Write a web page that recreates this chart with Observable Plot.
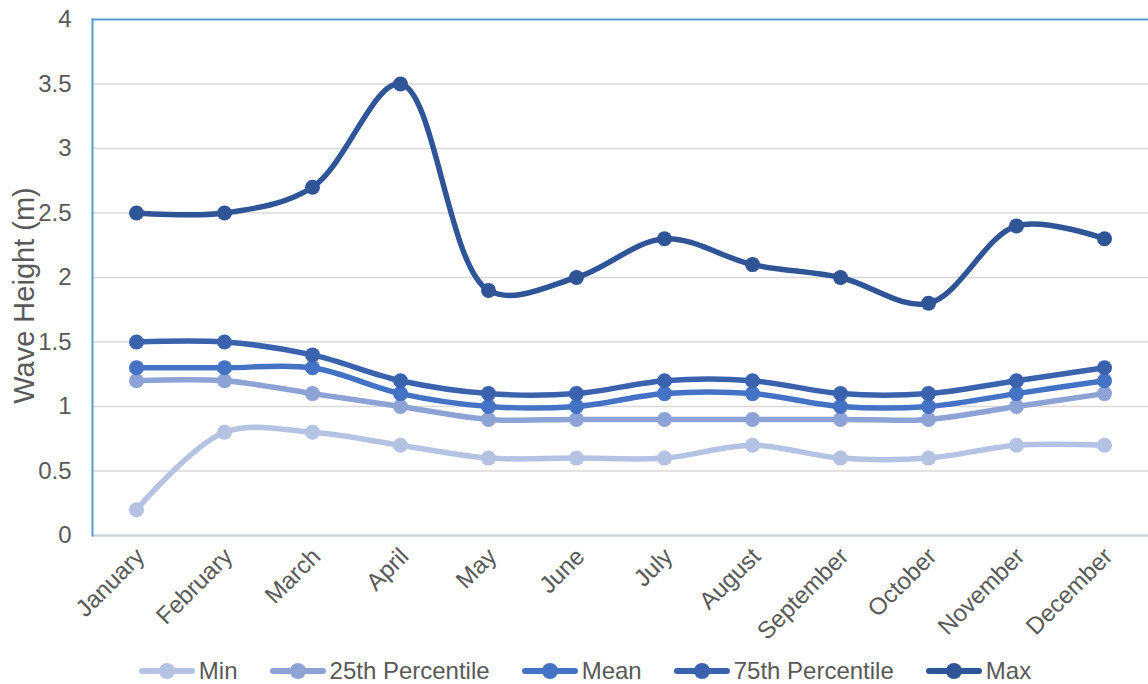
<!DOCTYPE html>
<html>
<head>
<meta charset="utf-8">
<script src="https://cdn.jsdelivr.net/npm/d3@7"></script>
<script src="https://cdn.jsdelivr.net/npm/@observablehq/plot@0.6"></script>
<style>
  body { margin: 0; background: #fff; font-family: "Liberation Sans", Arial, sans-serif; }
  #chart { width: 1148px; height: 650px; }
  .legend { display: flex; justify-content: center; align-items: center; gap: 32px; height: 34px; margin-left: 22px; margin-top: 4px; color: #595959; font-size: 24px; }
  .legend .item { display: flex; align-items: center; gap: 4px; }
  .legend svg { display: block; }
</style>
</head>
<body>
<div id="chart"></div>
<script>
const months = ["January","February","March","April","May","June","July","August","September","October","November","December"];
const seriesNames = ["Min","25th Percentile","Mean","75th Percentile","Max"];
const seriesColors = ["#b4c2e3","#8ea3d5","#4472c4","#3b63ad","#2f5597"];
const minVals  = [0.2,0.8,0.8,0.7,0.6,0.6,0.6,0.7,0.6,0.6,0.7,0.7];
const p25Vals  = [1.2,1.2,1.1,1.0,0.9,0.9,0.9,0.9,0.9,0.9,1.0,1.1];
const meanVals = [1.3,1.3,1.3,1.1,1.0,1.0,1.1,1.1,1.0,1.0,1.1,1.2];
const p75Vals  = [1.5,1.5,1.4,1.2,1.1,1.1,1.2,1.2,1.1,1.1,1.2,1.3];
const maxVals  = [2.5,2.5,2.7,3.5,1.9,2.0,2.3,2.1,2.0,1.8,2.4,2.3];
const yTicks = [0,0.5,1,1.5,2,2.5,3,3.5,4];

const allVals = [minVals,p25Vals,meanVals,p75Vals,maxVals];
const data = [];
seriesNames.forEach((s, si) => months.forEach((m, i) => data.push({series: s, month: m, value: allVals[si][i]})));

const W = 1148, H = 650;
const chart = Plot.plot({
  width: W, height: H,
  marginLeft: 92, marginRight: 0, marginTop: 19, marginBottom: 115,
  style: {fontFamily: "Liberation Sans, Arial, sans-serif", fontSize: "24px", color: "#595959", background: "#fff", overflow: "visible"},
  x: {type: "point", domain: months, padding: 0.5, axis: null},
  y: {domain: [0,4], axis: null},
  color: {domain: seriesNames, range: seriesColors},
  marks: [
    Plot.ruleY(yTicks.filter(d => d > 0 && d < 4), {stroke: "#d9d9d9", strokeWidth: 1.5}),
    Plot.ruleY([0], {stroke: "#d0d5dc", strokeWidth: 2.5}),
    Plot.frame({anchor: "left", stroke: "#5b9bd5", strokeWidth: 2}),
    Plot.frame({anchor: "top", stroke: "#5b9bd5", strokeWidth: 2}),
    Plot.axisY({ticks: yTicks, tickSize: 0, tickPadding: 21, tickFormat: d => String(d), label: null, fontSize: 24, fill: "#595959"}),
    Plot.axisX({tickRotate: -45, tickSize: 0, tickPadding: 17, dx: 4, label: null, fontSize: 24, fill: "#595959"}),
    Plot.text(["Wave Height (m)"], {frameAnchor: "left", textAnchor: "middle", dx: -68, dy: 18, rotate: -90, fontSize: 29, fill: "#595959"}),
    Plot.line(data, {x: "month", y: "value", z: "series", stroke: "series", strokeWidth: 5.5, curve: "catmull-rom"}),
    Plot.dot(data, {x: "month", y: "value", fill: "series", r: 7.5})
  ]
});
document.getElementById("chart").appendChild(chart);

const legend = document.createElement("div");
legend.className = "legend";
seriesNames.forEach((s, i) => {
  const item = document.createElement("div");
  item.className = "item";
  item.innerHTML = `<svg width="56" height="18"><line x1="3" y1="9" x2="53" y2="9" stroke="${seriesColors[i]}" stroke-width="6" stroke-linecap="round"/><circle cx="28" cy="9" r="8" fill="${seriesColors[i]}"/></svg><span>${s}</span>`;
  legend.appendChild(item);
});
document.body.appendChild(legend);
</script>
</body>
</html>
